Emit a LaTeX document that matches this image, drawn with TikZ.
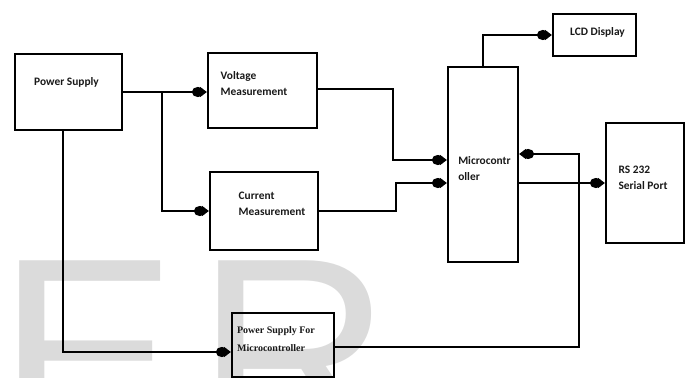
\documentclass[tikz,border=0pt]{standalone}
\usepackage{fontspec}
\setmainfont{Carlito}
\newfontfamily\serfont{Liberation Serif}
\newfontfamily\wmfont{Liberation Sans}
\usetikzlibrary{arrows.meta,calc}

\begin{document}
\begin{tikzpicture}[x=1pt,y=-1pt,font=\fontsize{11.4}{16}\selectfont\bfseries]
\tikzset{
  blk/.style={draw,line width=2.2pt,inner sep=0pt},
  txt/.style={align=left,inner sep=0pt,text=black!90},
  conn/.style={line width=2pt,-{Ellipse[length=12pt,width=10pt,sep=-4pt]Triangle[length=7pt,width=10pt]}},
  wm/.style={text=black!14,inner sep=0pt,anchor=base west,font=\wmfont\fontsize{270}{270}\selectfont}
}
\useasboundingbox (0,0) rectangle (689,378);
\begin{scope}
\clip (0,0) rectangle (689,378);
\node (wmE)[wm] at (-3,446){E};
\node (wmR)[wm] at (196,446){R};
\end{scope}
% blocks
\node (ps)[blk,minimum width=107pt,minimum height=76pt,label={[txt,xshift=-2pt,yshift=10pt]center:Power Supply}] at (68.5,92){};
\node (vm)[blk,minimum width=109pt,minimum height=75pt,label={[txt,xshift=-8.5pt,yshift=6.5pt]center:{Voltage\\Measurement}}] at (262.5,90.5){};
\node (cm)[blk,minimum width=108pt,minimum height=78pt,label={[txt,xshift=8pt,yshift=7.5pt]center:{Current\\Measurement}}] at (264,211){};
\node (mc)[blk,minimum width=70pt,minimum height=195pt,label={[txt,xshift=1.5pt,yshift=-4pt]center:{Microcontr\\oller}}] at (483,164.5){};
\node (lcd)[blk,minimum width=83pt,minimum height=42pt,label={[txt,xshift=3pt,yshift=3pt]center:LCD Display}] at (594.5,35){};
\node (rs)[blk,minimum width=78pt,minimum height=120pt,label={[txt,xshift=-2pt,yshift=5.5pt]center:{RS 232\\Serial Port}}] at (645,183){};
\node (psmc)[blk,minimum width=102pt,minimum height=64pt,label={[txt,xshift=-7pt,yshift=6pt,font=\serfont\bfseries\fontsize{10}{18}\selectfont]center:{Power Supply For\\Microcontroller}}] at (283,345){};
% connections
\coordinate (jv) at (162,92);
\draw[conn](ps.east)--(ps.east -| vm.west);
\draw[conn](jv)|-(cm.west);
\draw[conn]([xshift=-5.5pt]ps.south)|-([yshift=-7pt]psmc.west);
\draw[conn]([yshift=2pt]vm.east)-- ++(75,0)|-([yshift=4.5pt]mc.west);
\draw[conn](cm.east)-- ++(77,0)|-([yshift=-18.5pt]mc.west);
\draw[conn](mc.north)|-(lcd.west);
\draw[conn](rs.west -| mc.east)--(rs.west);
\draw[conn]([yshift=-2pt]psmc.east)-- ++(244,0)|-([yshift=10.5pt]mc.east);
\end{tikzpicture}
\end{document}
